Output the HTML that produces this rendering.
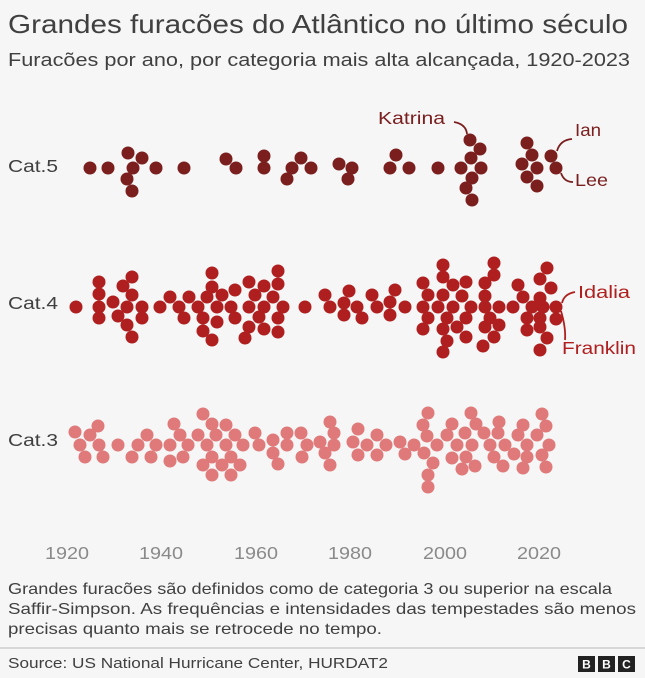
<!DOCTYPE html>
<html><head><meta charset="utf-8"><style>
body{margin:0;background:#f6f6f6;width:645px;height:678px;overflow:hidden;font-family:"Liberation Sans",sans-serif;color:#404040}
svg{position:absolute;left:0;top:0}
</style></head><body>
<svg width="645" height="678" viewBox="0 0 645 678" font-family="Liberation Sans, sans-serif">
<rect width="645" height="678" fill="#f6f6f6"/>
<text x="8" y="33" font-size="26" fill="#404040" textLength="620" lengthAdjust="spacingAndGlyphs">Grandes furacões do Atlântico no último século</text>
<text x="8" y="66" font-size="18.5" fill="#404040" textLength="622" lengthAdjust="spacingAndGlyphs">Furacões por ano, por categoria mais alta alcançada, 1920-2023</text>
<g font-size="17.5" fill="#404040">
<text x="8" y="172" textLength="50" lengthAdjust="spacingAndGlyphs">Cat.5</text>
<text x="8" y="309" textLength="50" lengthAdjust="spacingAndGlyphs">Cat.4</text>
<text x="8" y="446" textLength="50" lengthAdjust="spacingAndGlyphs">Cat.3</text>
</g>
<g fill="#7a1e1e">
<circle cx="90" cy="168" r="6.5"/><circle cx="108" cy="168" r="6.5"/><circle cx="128" cy="153" r="6.5"/><circle cx="142" cy="158" r="6.5"/><circle cx="133" cy="168" r="6.5"/><circle cx="127" cy="179" r="6.5"/><circle cx="132" cy="191" r="6.5"/><circle cx="156" cy="168" r="6.5"/><circle cx="184" cy="168" r="6.5"/><circle cx="226" cy="159" r="6.5"/><circle cx="236" cy="168" r="6.5"/><circle cx="264" cy="156" r="6.5"/><circle cx="264" cy="168" r="6.5"/><circle cx="287" cy="179" r="6.5"/><circle cx="292" cy="168" r="6.5"/><circle cx="301" cy="158" r="6.5"/><circle cx="311" cy="168" r="6.5"/><circle cx="339" cy="164" r="6.5"/><circle cx="352" cy="168" r="6.5"/><circle cx="348" cy="179" r="6.5"/>
<circle cx="396" cy="155" r="6.5"/><circle cx="390" cy="168" r="6.5"/><circle cx="409" cy="168" r="6.5"/><circle cx="438" cy="168" r="6.5"/><circle cx="470" cy="140" r="6.5"/><circle cx="480" cy="149" r="6.5"/><circle cx="471" cy="158" r="6.5"/><circle cx="461" cy="168" r="6.5"/><circle cx="481" cy="168" r="6.5"/><circle cx="472" cy="178" r="6.5"/><circle cx="466" cy="188" r="6.5"/><circle cx="472" cy="200" r="6.5"/>
<circle cx="527" cy="143" r="6.5"/><circle cx="532" cy="155" r="6.5"/><circle cx="522" cy="164" r="6.5"/><circle cx="537" cy="168" r="6.5"/><circle cx="527" cy="177" r="6.5"/><circle cx="537" cy="186" r="6.5"/><circle cx="551" cy="156" r="6.5"/><circle cx="556" cy="168" r="6.5"/>
</g>
<g fill="#7a1e1e" font-size="17.5">
<text x="378" y="124" textLength="67" lengthAdjust="spacingAndGlyphs">Katrina</text><text x="575" y="136" textLength="26" lengthAdjust="spacingAndGlyphs">Ian</text><text x="575" y="186" textLength="33" lengthAdjust="spacingAndGlyphs">Lee</text>
</g>
<g fill="none" stroke="#7a1e1e" stroke-width="1.8">
<path d="M454 122 Q466 124 467 134"/><path d="M557 151 Q560 140 572 139"/><path d="M561 173 Q564 182 573 182"/>
</g>
<g fill="none" stroke="#b01f1f" stroke-width="1.8">
<path d="M562 303 Q564 294 575 292"/><path d="M561 311 Q566 328 565 340"/>
</g>
<g fill="#b01f1f">
<circle cx="76" cy="307" r="6.5"/><circle cx="99" cy="282" r="6.5"/><circle cx="99" cy="294" r="6.5"/><circle cx="99" cy="307" r="6.5"/><circle cx="99" cy="318" r="6.5"/><circle cx="113" cy="302" r="6.5"/><circle cx="123" cy="286" r="6.5"/><circle cx="132" cy="277" r="6.5"/><circle cx="132" cy="295" r="6.5"/><circle cx="127" cy="307" r="6.5"/><circle cx="118" cy="316" r="6.5"/><circle cx="127" cy="325" r="6.5"/><circle cx="132" cy="337" r="6.5"/><circle cx="142" cy="307" r="6.5"/><circle cx="142" cy="318" r="6.5"/><circle cx="160" cy="307" r="6.5"/><circle cx="170" cy="297" r="6.5"/><circle cx="179" cy="307" r="6.5"/><circle cx="184" cy="318" r="6.5"/><circle cx="189" cy="297" r="6.5"/><circle cx="198" cy="307" r="6.5"/><circle cx="207" cy="297" r="6.5"/><circle cx="212" cy="273" r="6.5"/><circle cx="212" cy="287" r="6.5"/><circle cx="222" cy="295" r="6.5"/><circle cx="217" cy="307" r="6.5"/><circle cx="203" cy="318" r="6.5"/><circle cx="217" cy="322" r="6.5"/><circle cx="203" cy="331" r="6.5"/><circle cx="212" cy="340" r="6.5"/><circle cx="235" cy="290" r="6.5"/><circle cx="231" cy="307" r="6.5"/><circle cx="235" cy="318" r="6.5"/><circle cx="249" cy="282" r="6.5"/><circle cx="255" cy="295" r="6.5"/><circle cx="249" cy="307" r="6.5"/><circle cx="259" cy="317" r="6.5"/><circle cx="249" cy="327" r="6.5"/><circle cx="245" cy="338" r="6.5"/><circle cx="264" cy="286" r="6.5"/><circle cx="264" cy="307" r="6.5"/><circle cx="264" cy="329" r="6.5"/><circle cx="278" cy="271" r="6.5"/><circle cx="278" cy="284" r="6.5"/><circle cx="273" cy="297" r="6.5"/><circle cx="283" cy="307" r="6.5"/><circle cx="278" cy="318" r="6.5"/><circle cx="278" cy="332" r="6.5"/><circle cx="305" cy="307" r="6.5"/><circle cx="325" cy="295" r="6.5"/><circle cx="330" cy="307" r="6.5"/><circle cx="349" cy="291" r="6.5"/><circle cx="344" cy="303" r="6.5"/><circle cx="344" cy="315" r="6.5"/><circle cx="357" cy="307" r="6.5"/>
<circle cx="362" cy="318" r="6.5"/><circle cx="372" cy="295" r="6.5"/><circle cx="377" cy="307" r="6.5"/><circle cx="390" cy="315" r="6.5"/><circle cx="390" cy="302" r="6.5"/><circle cx="395" cy="290" r="6.5"/><circle cx="405" cy="307" r="6.5"/><circle cx="423" cy="283" r="6.5"/><circle cx="428" cy="295" r="6.5"/><circle cx="423" cy="307" r="6.5"/><circle cx="428" cy="318" r="6.5"/><circle cx="423" cy="329" r="6.5"/><circle cx="443" cy="265" r="6.5"/><circle cx="443" cy="277" r="6.5"/><circle cx="443" cy="295" r="6.5"/><circle cx="438" cy="307" r="6.5"/><circle cx="453" cy="285" r="6.5"/><circle cx="453" cy="307" r="6.5"/><circle cx="447" cy="318" r="6.5"/><circle cx="443" cy="329" r="6.5"/><circle cx="447" cy="341" r="6.5"/><circle cx="443" cy="352" r="6.5"/><circle cx="466" cy="282" r="6.5"/><circle cx="462" cy="296" r="6.5"/><circle cx="471" cy="307" r="6.5"/><circle cx="466" cy="318" r="6.5"/><circle cx="457" cy="327" r="6.5"/><circle cx="466" cy="337" r="6.5"/><circle cx="485" cy="283" r="6.5"/><circle cx="485" cy="296" r="6.5"/><circle cx="485" cy="307" r="6.5"/><circle cx="490" cy="318" r="6.5"/><circle cx="499" cy="325" r="6.5"/><circle cx="485" cy="327" r="6.5"/><circle cx="494" cy="263" r="6.5"/><circle cx="494" cy="275" r="6.5"/><circle cx="499" cy="307" r="6.5"/><circle cx="494" cy="337" r="6.5"/><circle cx="483" cy="346" r="6.5"/><circle cx="513" cy="307" r="6.5"/><circle cx="518" cy="285" r="6.5"/><circle cx="523" cy="297" r="6.5"/><circle cx="532" cy="307" r="6.5"/><circle cx="527" cy="318" r="6.5"/><circle cx="527" cy="330" r="6.5"/><circle cx="547" cy="268" r="6.5"/><circle cx="540" cy="279" r="6.5"/><circle cx="551" cy="288" r="6.5"/><circle cx="540" cy="298" r="6.5"/><circle cx="543" cy="307" r="6.5"/><circle cx="540" cy="318" r="6.5"/><circle cx="540" cy="327" r="6.5"/><circle cx="547" cy="338" r="6.5"/><circle cx="540" cy="350" r="6.5"/><circle cx="556" cy="307" r="6.5"/><circle cx="556" cy="319" r="6.5"/>
</g>
<g fill="#b01f1f" font-size="17.5"><text x="578" y="298" textLength="52" lengthAdjust="spacingAndGlyphs">Idalia</text><text x="562" y="354" textLength="74" lengthAdjust="spacingAndGlyphs">Franklin</text></g>
<g fill="#e07a7a">
<circle cx="75" cy="432" r="6.5"/><circle cx="98" cy="426" r="6.5"/><circle cx="90" cy="435" r="6.5"/><circle cx="80" cy="445" r="6.5"/><circle cx="99" cy="445" r="6.5"/><circle cx="85" cy="457" r="6.5"/><circle cx="103" cy="457" r="6.5"/><circle cx="118" cy="445" r="6.5"/><circle cx="132" cy="457" r="6.5"/><circle cx="138" cy="445" r="6.5"/><circle cx="147" cy="435" r="6.5"/><circle cx="156" cy="445" r="6.5"/><circle cx="151" cy="457" r="6.5"/><circle cx="174" cy="424" r="6.5"/><circle cx="180" cy="435" r="6.5"/><circle cx="170" cy="445" r="6.5"/><circle cx="188" cy="445" r="6.5"/><circle cx="183" cy="457" r="6.5"/><circle cx="170" cy="461" r="6.5"/><circle cx="198" cy="435" r="6.5"/><circle cx="203" cy="414" r="6.5"/><circle cx="212" cy="424" r="6.5"/><circle cx="216" cy="435" r="6.5"/><circle cx="207" cy="445" r="6.5"/><circle cx="226" cy="425" r="6.5"/><circle cx="226" cy="445" r="6.5"/><circle cx="235" cy="435" r="6.5"/><circle cx="243" cy="445" r="6.5"/><circle cx="212" cy="457" r="6.5"/><circle cx="231" cy="457" r="6.5"/><circle cx="203" cy="465" r="6.5"/><circle cx="222" cy="465" r="6.5"/><circle cx="240" cy="465" r="6.5"/><circle cx="212" cy="475" r="6.5"/><circle cx="231" cy="475" r="6.5"/><circle cx="255" cy="433" r="6.5"/><circle cx="259" cy="445" r="6.5"/><circle cx="273" cy="440" r="6.5"/><circle cx="273" cy="453" r="6.5"/><circle cx="278" cy="464" r="6.5"/><circle cx="287" cy="433" r="6.5"/><circle cx="287" cy="445" r="6.5"/><circle cx="301" cy="433" r="6.5"/><circle cx="307" cy="445" r="6.5"/><circle cx="302" cy="457" r="6.5"/><circle cx="320" cy="442" r="6.5"/><circle cx="330" cy="422" r="6.5"/><circle cx="334" cy="433" r="6.5"/><circle cx="334" cy="445" r="6.5"/><circle cx="325" cy="453" r="6.5"/><circle cx="330" cy="465" r="6.5"/>
<circle cx="358" cy="429" r="6.5"/><circle cx="353" cy="442" r="6.5"/><circle cx="358" cy="455" r="6.5"/><circle cx="367" cy="445" r="6.5"/><circle cx="377" cy="435" r="6.5"/><circle cx="386" cy="445" r="6.5"/><circle cx="377" cy="455" r="6.5"/><circle cx="400" cy="442" r="6.5"/><circle cx="405" cy="454" r="6.5"/><circle cx="414" cy="445" r="6.5"/><circle cx="423" cy="425" r="6.5"/><circle cx="428" cy="413" r="6.5"/><circle cx="427" cy="436" r="6.5"/><circle cx="437" cy="445" r="6.5"/><circle cx="424" cy="453" r="6.5"/><circle cx="433" cy="463" r="6.5"/><circle cx="428" cy="475" r="6.5"/><circle cx="428" cy="487" r="6.5"/><circle cx="447" cy="435" r="6.5"/><circle cx="452" cy="424" r="6.5"/><circle cx="457" cy="445" r="6.5"/><circle cx="452" cy="458" r="6.5"/><circle cx="462" cy="469" r="6.5"/><circle cx="465" cy="433" r="6.5"/><circle cx="466" cy="457" r="6.5"/><circle cx="471" cy="413" r="6.5"/><circle cx="476" cy="424" r="6.5"/><circle cx="472" cy="445" r="6.5"/><circle cx="475" cy="466" r="6.5"/><circle cx="484" cy="433" r="6.5"/><circle cx="490" cy="445" r="6.5"/><circle cx="494" cy="457" r="6.5"/><circle cx="499" cy="422" r="6.5"/><circle cx="498" cy="433" r="6.5"/><circle cx="505" cy="445" r="6.5"/><circle cx="503" cy="466" r="6.5"/><circle cx="514" cy="454" r="6.5"/><circle cx="518" cy="435" r="6.5"/><circle cx="523" cy="425" r="6.5"/><circle cx="527" cy="445" r="6.5"/><circle cx="527" cy="457" r="6.5"/><circle cx="523" cy="468" r="6.5"/><circle cx="537" cy="435" r="6.5"/><circle cx="542" cy="414" r="6.5"/><circle cx="546" cy="426" r="6.5"/><circle cx="549" cy="445" r="6.5"/><circle cx="542" cy="455" r="6.5"/><circle cx="546" cy="467" r="6.5"/>
</g>
<g fill="#8a8a8a" font-size="17.5" text-anchor="middle">
<text x="67" y="559" textLength="44" lengthAdjust="spacingAndGlyphs">1920</text><text x="161" y="559" textLength="44" lengthAdjust="spacingAndGlyphs">1940</text><text x="256" y="559" textLength="44" lengthAdjust="spacingAndGlyphs">1960</text><text x="350" y="559" textLength="44" lengthAdjust="spacingAndGlyphs">1980</text><text x="445" y="559" textLength="44" lengthAdjust="spacingAndGlyphs">2000</text><text x="539" y="559" textLength="44" lengthAdjust="spacingAndGlyphs">2020</text>
</g>
<g fill="#404040" font-size="16">
<text x="8" y="594" textLength="604" lengthAdjust="spacingAndGlyphs">Grandes furacões são definidos como de categoria 3 ou superior na escala</text>
<text x="8" y="614" textLength="628" lengthAdjust="spacingAndGlyphs">Saffir-Simpson. As frequências e intensidades das tempestades são menos</text>
<text x="8" y="634" textLength="374" lengthAdjust="spacingAndGlyphs">precisas quanto mais se retrocede no tempo.</text>
</g>
<line x1="0" y1="648" x2="645" y2="648" stroke="#bbb" stroke-width="1"/>
<text x="8" y="668" font-size="14.5" fill="#404040" textLength="380" lengthAdjust="spacingAndGlyphs">Source: US National Hurricane Center, HURDAT2</text>
<g>
<rect x="578" y="656" width="17" height="16" fill="#222"/><rect x="598" y="656" width="17" height="16" fill="#222"/><rect x="618" y="656" width="17" height="16" fill="#222"/>
<g fill="#fff" font-size="12" font-weight="bold" text-anchor="middle"><text x="586.5" y="668.5">B</text><text x="606.5" y="668.5">B</text><text x="626.5" y="668.5">C</text></g>
</g>
</svg>
</body></html>
